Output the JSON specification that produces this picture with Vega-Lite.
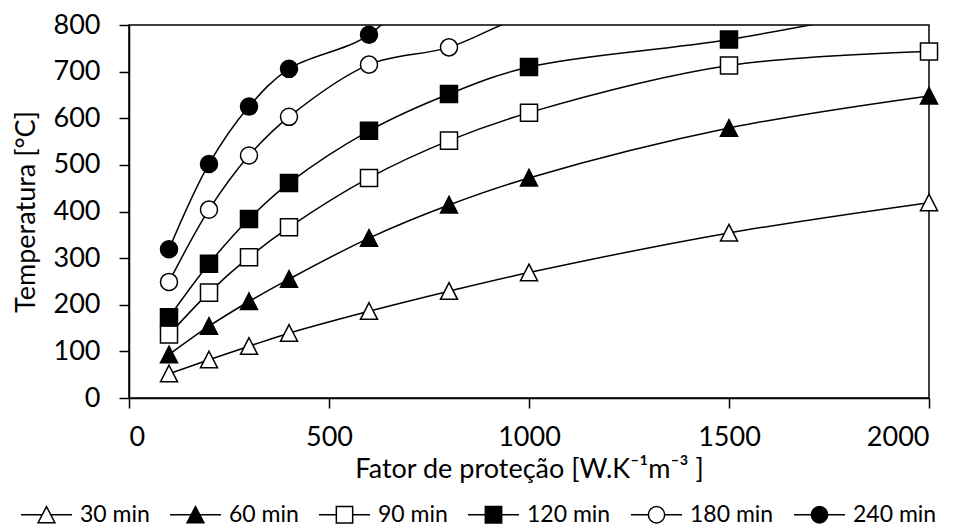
{
  "$schema": "https://vega.github.io/schema/vega-lite/v6.json",
  "width": 800,
  "height": 373,
  "autosize": {"type": "none"},
  "padding": {"left": 129, "top": 25, "right": 33, "bottom": 129},
  "background": "white",
  "config": {
    "font": "Lato",
    "view": {"stroke": "black", "strokeWidth": 1.5},
    "axis": {
      "grid": false,
      "domainColor": "black",
      "domainWidth": 1.5,
      "tickColor": "black",
      "tickWidth": 1.5,
      "tickSize": 10,
      "labelColor": "black",
      "labelFont": "Lato",
      "labelFontSize": 27,
      "titleFont": "Lato",
      "titleFontSize": 27,
      "titleFontWeight": "normal",
      "titleColor": "black"
    }
  },
  "data": {
    "values": [
      {"x": 100, "y": 52, "s": "30 min"},
      {"x": 200, "y": 82, "s": "30 min"},
      {"x": 300, "y": 111, "s": "30 min"},
      {"x": 400, "y": 139, "s": "30 min"},
      {"x": 600, "y": 186, "s": "30 min"},
      {"x": 800, "y": 229, "s": "30 min"},
      {"x": 1000, "y": 269, "s": "30 min"},
      {"x": 1500, "y": 354, "s": "30 min"},
      {"x": 2000, "y": 419, "s": "30 min"},
      {"x": 100, "y": 93, "s": "60 min"},
      {"x": 200, "y": 154, "s": "60 min"},
      {"x": 300, "y": 207, "s": "60 min"},
      {"x": 400, "y": 255, "s": "60 min"},
      {"x": 600, "y": 343, "s": "60 min"},
      {"x": 800, "y": 414, "s": "60 min"},
      {"x": 1000, "y": 472, "s": "60 min"},
      {"x": 1500, "y": 579, "s": "60 min"},
      {"x": 2000, "y": 648, "s": "60 min"},
      {"x": 100, "y": 136, "s": "90 min"},
      {"x": 200, "y": 226, "s": "90 min"},
      {"x": 300, "y": 302, "s": "90 min"},
      {"x": 400, "y": 366, "s": "90 min"},
      {"x": 600, "y": 472, "s": "90 min"},
      {"x": 800, "y": 552, "s": "90 min"},
      {"x": 1000, "y": 612, "s": "90 min"},
      {"x": 1500, "y": 713, "s": "90 min"},
      {"x": 2000, "y": 743, "s": "90 min"},
      {"x": 100, "y": 173, "s": "120 min"},
      {"x": 200, "y": 288, "s": "120 min"},
      {"x": 300, "y": 384, "s": "120 min"},
      {"x": 400, "y": 461, "s": "120 min"},
      {"x": 600, "y": 573, "s": "120 min"},
      {"x": 800, "y": 652, "s": "120 min"},
      {"x": 1000, "y": 710, "s": "120 min"},
      {"x": 1500, "y": 769, "s": "120 min"},
      {"x": 2000, "y": 850, "s": "120 min"},
      {"x": 100, "y": 249, "s": "180 min"},
      {"x": 200, "y": 404, "s": "180 min"},
      {"x": 300, "y": 520, "s": "180 min"},
      {"x": 400, "y": 603, "s": "180 min"},
      {"x": 600, "y": 715, "s": "180 min"},
      {"x": 800, "y": 752, "s": "180 min"},
      {"x": 1000, "y": 822, "s": "180 min"},
      {"x": 1500, "y": 900, "s": "180 min"},
      {"x": 2000, "y": 950, "s": "180 min"},
      {"x": 100, "y": 319, "s": "240 min"},
      {"x": 200, "y": 502, "s": "240 min"},
      {"x": 300, "y": 625, "s": "240 min"},
      {"x": 400, "y": 706, "s": "240 min"},
      {"x": 600, "y": 779, "s": "240 min"},
      {"x": 800, "y": 950, "s": "240 min"},
      {"x": 1000, "y": 1000, "s": "240 min"},
      {"x": 1500, "y": 1050, "s": "240 min"},
      {"x": 2000, "y": 1080, "s": "240 min"}
    ]
  },
  "layer": [
    {
      "mark": {"type": "line", "interpolate": "catmull-rom", "color": "black", "strokeWidth": 1.5, "clip": true},
      "encoding": {
        "x": {"field": "x", "type": "quantitative", "scale": {"domain": [0, 2000]},
          "axis": {"values": [0, 500, 1000, 1500, 2000], "format": "d", "labelPadding": 16, "titlePadding": 6, "title": "Fator de proteção [W.K⁻¹m⁻³ ]"}},
        "y": {"field": "y", "type": "quantitative", "scale": {"domain": [0, 800]},
          "axis": {"values": [0, 100, 200, 300, 400, 500, 600, 700, 800], "format": "d", "labelPadding": 19, "titlePadding": 13, "title": "Temperatura [°C]"}},
        "detail": {"field": "s"}
      }
    },
    {
      "transform": [{"filter": "datum.y <= 800"}],
      "mark": {"type": "point", "filled": true, "stroke": "black", "strokeWidth": 1.5, "size": 290, "opacity": 1},
      "encoding": {
        "x": {"field": "x", "type": "quantitative"},
        "y": {"field": "y", "type": "quantitative"},
        "shape": {"field": "s", "type": "nominal", "legend": null,
          "scale": {"domain": ["30 min", "60 min", "90 min", "120 min", "180 min", "240 min"],
            "range": ["M0,-1L1,0.95L-1,0.95Z", "M0,-1L1,0.95L-1,0.95Z", "square", "square", "circle", "circle"]}},
        "fill": {"field": "s", "type": "nominal", "legend": null,
          "scale": {"domain": ["30 min", "60 min", "90 min", "120 min", "180 min", "240 min"],
            "range": ["white", "black", "white", "black", "white", "black"]}}
      }
    },
    {
      "transform": [{"filter": "datum.s == 'none'"}],
      "mark": {"type": "point", "filled": true, "stroke": "black", "strokeWidth": 1.5, "size": 290, "opacity": 1},
      "encoding": {
        "x": {"field": "x", "type": "quantitative"},
        "y": {"field": "y", "type": "quantitative"},
        "shape": {"field": "s", "type": "nominal",
          "scale": {"domain": ["30 min", "60 min", "90 min", "120 min", "180 min", "240 min"],
            "range": [
              "M-1,0H-0.17M0.17,0H1M0,-0.32L0.33,0.31L-0.33,0.31Z",
              "M-1,0H-0.17M0.17,0H1M0,-0.32L0.33,0.31L-0.33,0.31Z",
              "M-1,0H-0.32M0.32,0H1M-0.32,-0.32H0.32V0.32H-0.32Z",
              "M-1,0H-0.32M0.32,0H1M-0.32,-0.32H0.32V0.32H-0.32Z",
              "M-1,0H-0.32M0.32,0H1M0.32,0A0.32,0.32,0,1,1,-0.32,0A0.32,0.32,0,1,1,0.32,0Z",
              "M-1,0H-0.32M0.32,0H1M0.32,0A0.32,0.32,0,1,1,-0.32,0A0.32,0.32,0,1,1,0.32,0Z"
            ]},
          "legend": {"orient": "none", "legendX": -109, "legendY": 463, "direction": "horizontal", "title": null,
            "symbolSize": 2600, "symbolStrokeWidth": 1.5, "symbolStrokeColor": "black",
            "labelFont": "Lato", "labelFontSize": 23, "labelColor": "black", "labelOffset": 7, "columnPadding": 17,
            "symbolOpacity": 1,
            "encode": {"symbols": {"update": {"stroke": {"value": "black"}, "strokeWidth": {"value": 1.5}, "opacity": {"value": 1}}}}}},
        "fill": {"field": "s", "type": "nominal",
          "scale": {"domain": ["30 min", "60 min", "90 min", "120 min", "180 min", "240 min"],
            "range": ["white", "black", "white", "black", "white", "black"]},
          "legend": {"orient": "none", "legendX": -109, "legendY": 463, "direction": "horizontal", "title": null,
            "symbolSize": 2600, "symbolStrokeWidth": 1.5, "symbolStrokeColor": "black",
            "labelFont": "Lato", "labelFontSize": 23, "labelColor": "black", "labelOffset": 7, "columnPadding": 17,
            "symbolOpacity": 1,
            "encode": {"symbols": {"update": {"stroke": {"value": "black"}, "strokeWidth": {"value": 1.5}, "opacity": {"value": 1}}}}}}
      }
    }
  ],
  "resolve": {"scale": {"shape": "independent", "fill": "independent"}}
}
